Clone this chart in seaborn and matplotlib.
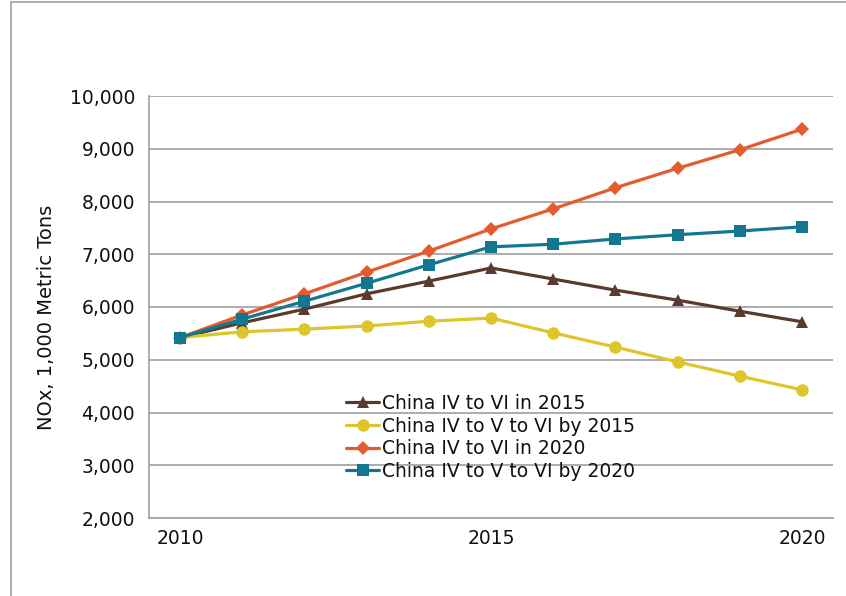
import matplotlib
matplotlib.use("Agg")
import matplotlib.pyplot as plt
from matplotlib.lines import Line2D
from matplotlib.ticker import FixedLocator, FuncFormatter
import seaborn as sns
import pandas as pd

years = [2010, 2011, 2012, 2013, 2014, 2015, 2016, 2017, 2018, 2019, 2020]
iv_vi_2015 = [5420, 5700, 5960, 6250, 6490, 6740, 6530, 6320, 6130, 5920, 5720]
iv_v_vi_2015 = [5420, 5530, 5580, 5640, 5730, 5790, 5510, 5240, 4960, 4690, 4430]
iv_vi_2020 = [5420, 5850, 6250, 6660, 7060, 7480, 7860, 8260, 8630, 8980, 9370]
iv_v_vi_2020 = [5420, 5770, 6110, 6450, 6800, 7140, 7190, 7290, 7370, 7440, 7520]

series_names = [
    "China IV to VI in 2015",
    "China IV to V to VI by 2015",
    "China IV to VI in 2020",
    "China IV to V to VI by 2020",
]
year_labels = ["2010", "2015", "2020"]

rows = []
for name, vals in zip(series_names, [iv_vi_2015, iv_v_vi_2015, iv_vi_2020, iv_v_vi_2020]):
    for yr, v in zip(years, vals):
        rows.append({"year": yr, "value": v, "scenario": name})
df = pd.DataFrame(rows)

sns.set_style("white")
plt.rcParams["font.family"] = ["DejaVu Sans"]

palette = {
    series_names[0]: "#5a3a2c",
    series_names[1]: "#dcc62a",
    series_names[2]: "#e35b2e",
    series_names[3]: "#13788f",
}
markers = {
    series_names[0]: "^",
    series_names[1]: "o",
    series_names[2]: "D",
    series_names[3]: "s",
}
sizes = {series_names[0]: 8.5, series_names[1]: 9, series_names[2]: 7, series_names[3]: 9}

fig = plt.figure(figsize=(8.46, 5.96), dpi=100)
ax = fig.add_axes([149 / 846, 1 - 518 / 596, (833 - 149) / 846, (518 - 96) / 596])

for name in series_names:
    sns.lineplot(
        data=df[df["scenario"] == name], x="year", y="value",
        color=palette[name], marker=markers[name], markersize=sizes[name],
        markeredgewidth=0, linewidth=2.3, label=name, ax=ax, zorder=3,
    )

ax.set_xlim(2009.5, 2020.5)
ax.set_ylim(2000, 10000)
ax.set_yticks(range(2000, 10001, 1000))
ax.yaxis.set_major_formatter(FuncFormatter(lambda v, p: f"{int(v):,}"))
ax.set_xticks([2010, 2015, 2020])
ax.set_xticklabels(year_labels)
ax.xaxis.set_minor_locator(FixedLocator([2009.5 + i for i in range(12)]))

grid_col = "#a6a6a6"
ax.grid(axis="y", color=grid_col, linewidth=1.3)
ax.set_axisbelow(True)
for side in ["top", "right"]:
    ax.spines[side].set_visible(False)
for side in ["left", "bottom"]:
    ax.spines[side].set_color(grid_col)
    ax.spines[side].set_linewidth(1.3)

ax.tick_params(axis="y", which="major", length=6, width=1.3, color=grid_col,
               labelsize=13.5, labelcolor="#111111", pad=4)
ax.tick_params(axis="x", which="major", length=0, labelsize=13.5,
               labelcolor="#111111", pad=8)
ax.tick_params(axis="x", which="minor", length=6, width=1.3, color=grid_col)

ax.set_xlabel("")
ax.set_ylabel("NOx, 1,000 Metric Tons", fontsize=14, color="#111111")
ax.yaxis.set_label_coords(-0.136, 0.476)

leg = ax.legend(loc="upper left", bbox_to_anchor=(0.275, 0.3166), frameon=False,
                fontsize=13.5, handlelength=1.75, handletextpad=0.15,
                labelspacing=0.2, borderpad=0)
for t in leg.get_texts():
    t.set_color("#111111")

# outer frame lines (left and top)
fig.add_artist(Line2D([11 / 846, 11 / 846], [0, 1 - 1.5 / 596],
                      transform=fig.transFigure, color=grid_col, linewidth=1.3))
fig.add_artist(Line2D([11 / 846, 1.01], [1 - 1.5 / 596, 1 - 1.5 / 596],
                      transform=fig.transFigure, color=grid_col, linewidth=1.3))

fig.savefig("out.png", dpi=100)
